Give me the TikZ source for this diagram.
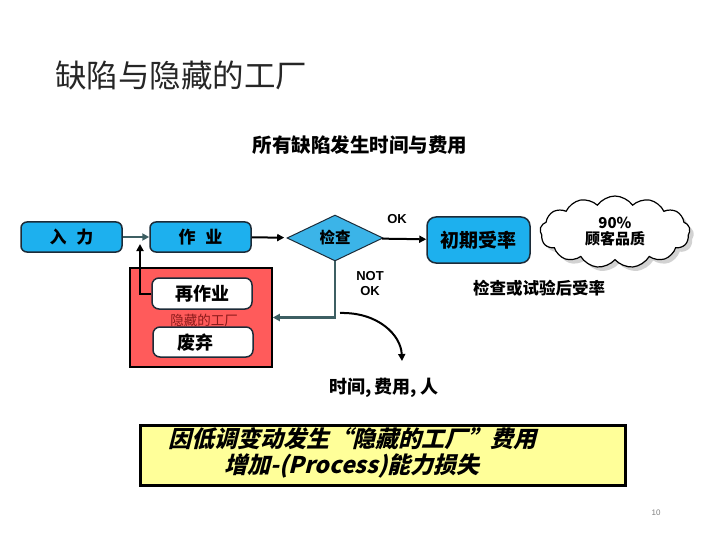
\documentclass[tikz,border=0pt]{standalone}
\usepackage{fontspec}
\setmainfont{Liberation Sans}
\newfontfamily\cjk{Noto Sans CJK SC}
\newfontfamily\cjkit[FakeSlant=0.25]{Noto Sans CJK SC}
\usetikzlibrary{shapes.geometric,shapes.symbols,shadows,arrows.meta}
\definecolor{boxblue}{HTML}{1DB0EE}
\definecolor{diablue}{HTML}{3BB4E8}
\definecolor{edgedark}{HTML}{1C2B38}
\definecolor{tealline}{HTML}{3D5F63}
\definecolor{hidred}{HTML}{FF5B5B}
\definecolor{noteyellow}{HTML}{FFFF99}
\definecolor{maroon}{HTML}{8B1A1A}
\tikzset{
  bluebox/.style={draw=edgedark, line width=1.5pt, fill=boxblue, rounded corners=6pt, inner sep=0pt, font=\cjk\bfseries\fontsize{17}{20}\selectfont},
  whitebox/.style={draw=edgedark, line width=1.5pt, fill=white, rounded corners=7pt, inner sep=0pt, font=\cjk\bfseries\fontsize{18}{21}\selectfont},
  conn/.style={line width=2pt, -{Triangle[length=7pt,width=7pt]}},
  lbl/.style={font=\cjk\bfseries\fontsize{16}{19}\selectfont, inner sep=0pt},
  latinlbl/.style={font=\bfseries\fontsize{13}{15}\selectfont, inner sep=0pt, align=center}
}
\begin{document}
\begin{tikzpicture}[x=1pt,y=-1pt]
\useasboundingbox (0,0) rectangle (720,540);
% title
\node[font=\cjk\fontsize{31.5}{34}\selectfont, text=black!85, inner sep=0pt] (title) at (181,76) {缺陷与隐藏的工厂};
\node[lbl, font=\cjk\bfseries\fontsize{19.5}{22}\selectfont] (sub) at (360,145) {所有缺陷发生时间与费用};
% hidden factory
\node[draw=black, line width=1.5pt, fill=hidred, minimum width=142pt, minimum height=99pt, inner sep=0pt] (hid) at (201,317.5) {};
\node[whitebox, minimum width=100pt, minimum height=31pt] (rew) at (202,293.5) {再作业};
\node[whitebox, minimum width=100pt, minimum height=30pt] (scrap) at (203,342) {};
\node[font=\cjk\bfseries\fontsize{18}{21}\selectfont, inner sep=0pt] (scraptxt) at (195,343) {废弃};
\node[font=\cjk\fontsize{13.5}{15}\selectfont, text=maroon, inner sep=0pt] (hidtxt) at (204,320) {隐藏的工厂};
% main flow
\node[bluebox, minimum width=101pt, minimum height=30pt] (in) at (71.5,237) {入\hspace{10pt}力};
\node[bluebox, minimum width=101pt, minimum height=30pt] (work) at (200.5,237) {作\hspace{10pt}业};
\node[diamond, draw=edgedark, line width=1pt, fill=diablue, minimum width=96pt, minimum height=42pt, inner sep=0pt, font=\cjk\bfseries\fontsize{15.5}{18}\selectfont] (chk) at (335,238) {检查};
\node[bluebox, minimum width=103pt, minimum height=46pt, rounded corners=9pt, font=\cjk\bfseries\fontsize{19}{22}\selectfont] (init) at (478.5,240) {初期受率};
\node[cloud, cloud puffs=13, cloud puff arc=110, aspect=2.1, draw=black, line width=1.2pt, fill=white, drop shadow={shadow xshift=4pt, shadow yshift=-4pt, fill=black!35}, minimum width=150pt, minimum height=72pt, inner sep=0pt, align=center, font=\cjk\bfseries\fontsize{15}{16}\selectfont] (cloud) at (615,232) {90\%\\顾客品质};
% labels
\node[latinlbl] (ok) at (397,219) {OK};
\node[latinlbl] (notok) at (370,284) {NOT\\OK};
\node[lbl, font=\cjk\bfseries\fontsize{16.5}{19}\selectfont] (after) at (539,288) {检查或试验后受率};
\node[lbl, font=\cjk\bfseries\fontsize{18}{21}\selectfont] (cost) at (384,388) {时间,\hspace{3pt}费用,\hspace{3pt}人};
% connectors
\draw[conn, tealline] (in) -- (work);
\draw[conn, black, shorten >=3pt] (work) -- (chk);
\draw[conn, black] (chk) -- (init);
\draw[conn, tealline, line width=2.5pt] (chk.south) |- (hid.east);
\coordinate (reup) at (140,244);
\draw[conn, black] (rew.west) -| (reup);
\coordinate (cstart) at (340,313);
\coordinate (cend) at (402,361);
\draw[conn, black] (cstart) .. controls (378,312) and (401,335) .. (cend);
% note
\node[draw=black, line width=3pt, fill=noteyellow, minimum width=485pt, minimum height=60pt, inner sep=0pt] (note) at (382.5,455) {};
\node[font=\cjkit\bfseries\fontsize{23}{26}\selectfont, align=center, inner sep=0pt] (notetxt) at (352,453) {因低调变动发生“隐藏的工厂”费用\\增加-(Process)能力损失};
\node[font=\fontsize{8}{9}\selectfont, text=black!50, inner sep=0pt] (pg) at (656,513) {10};
\end{tikzpicture}
\end{document}
